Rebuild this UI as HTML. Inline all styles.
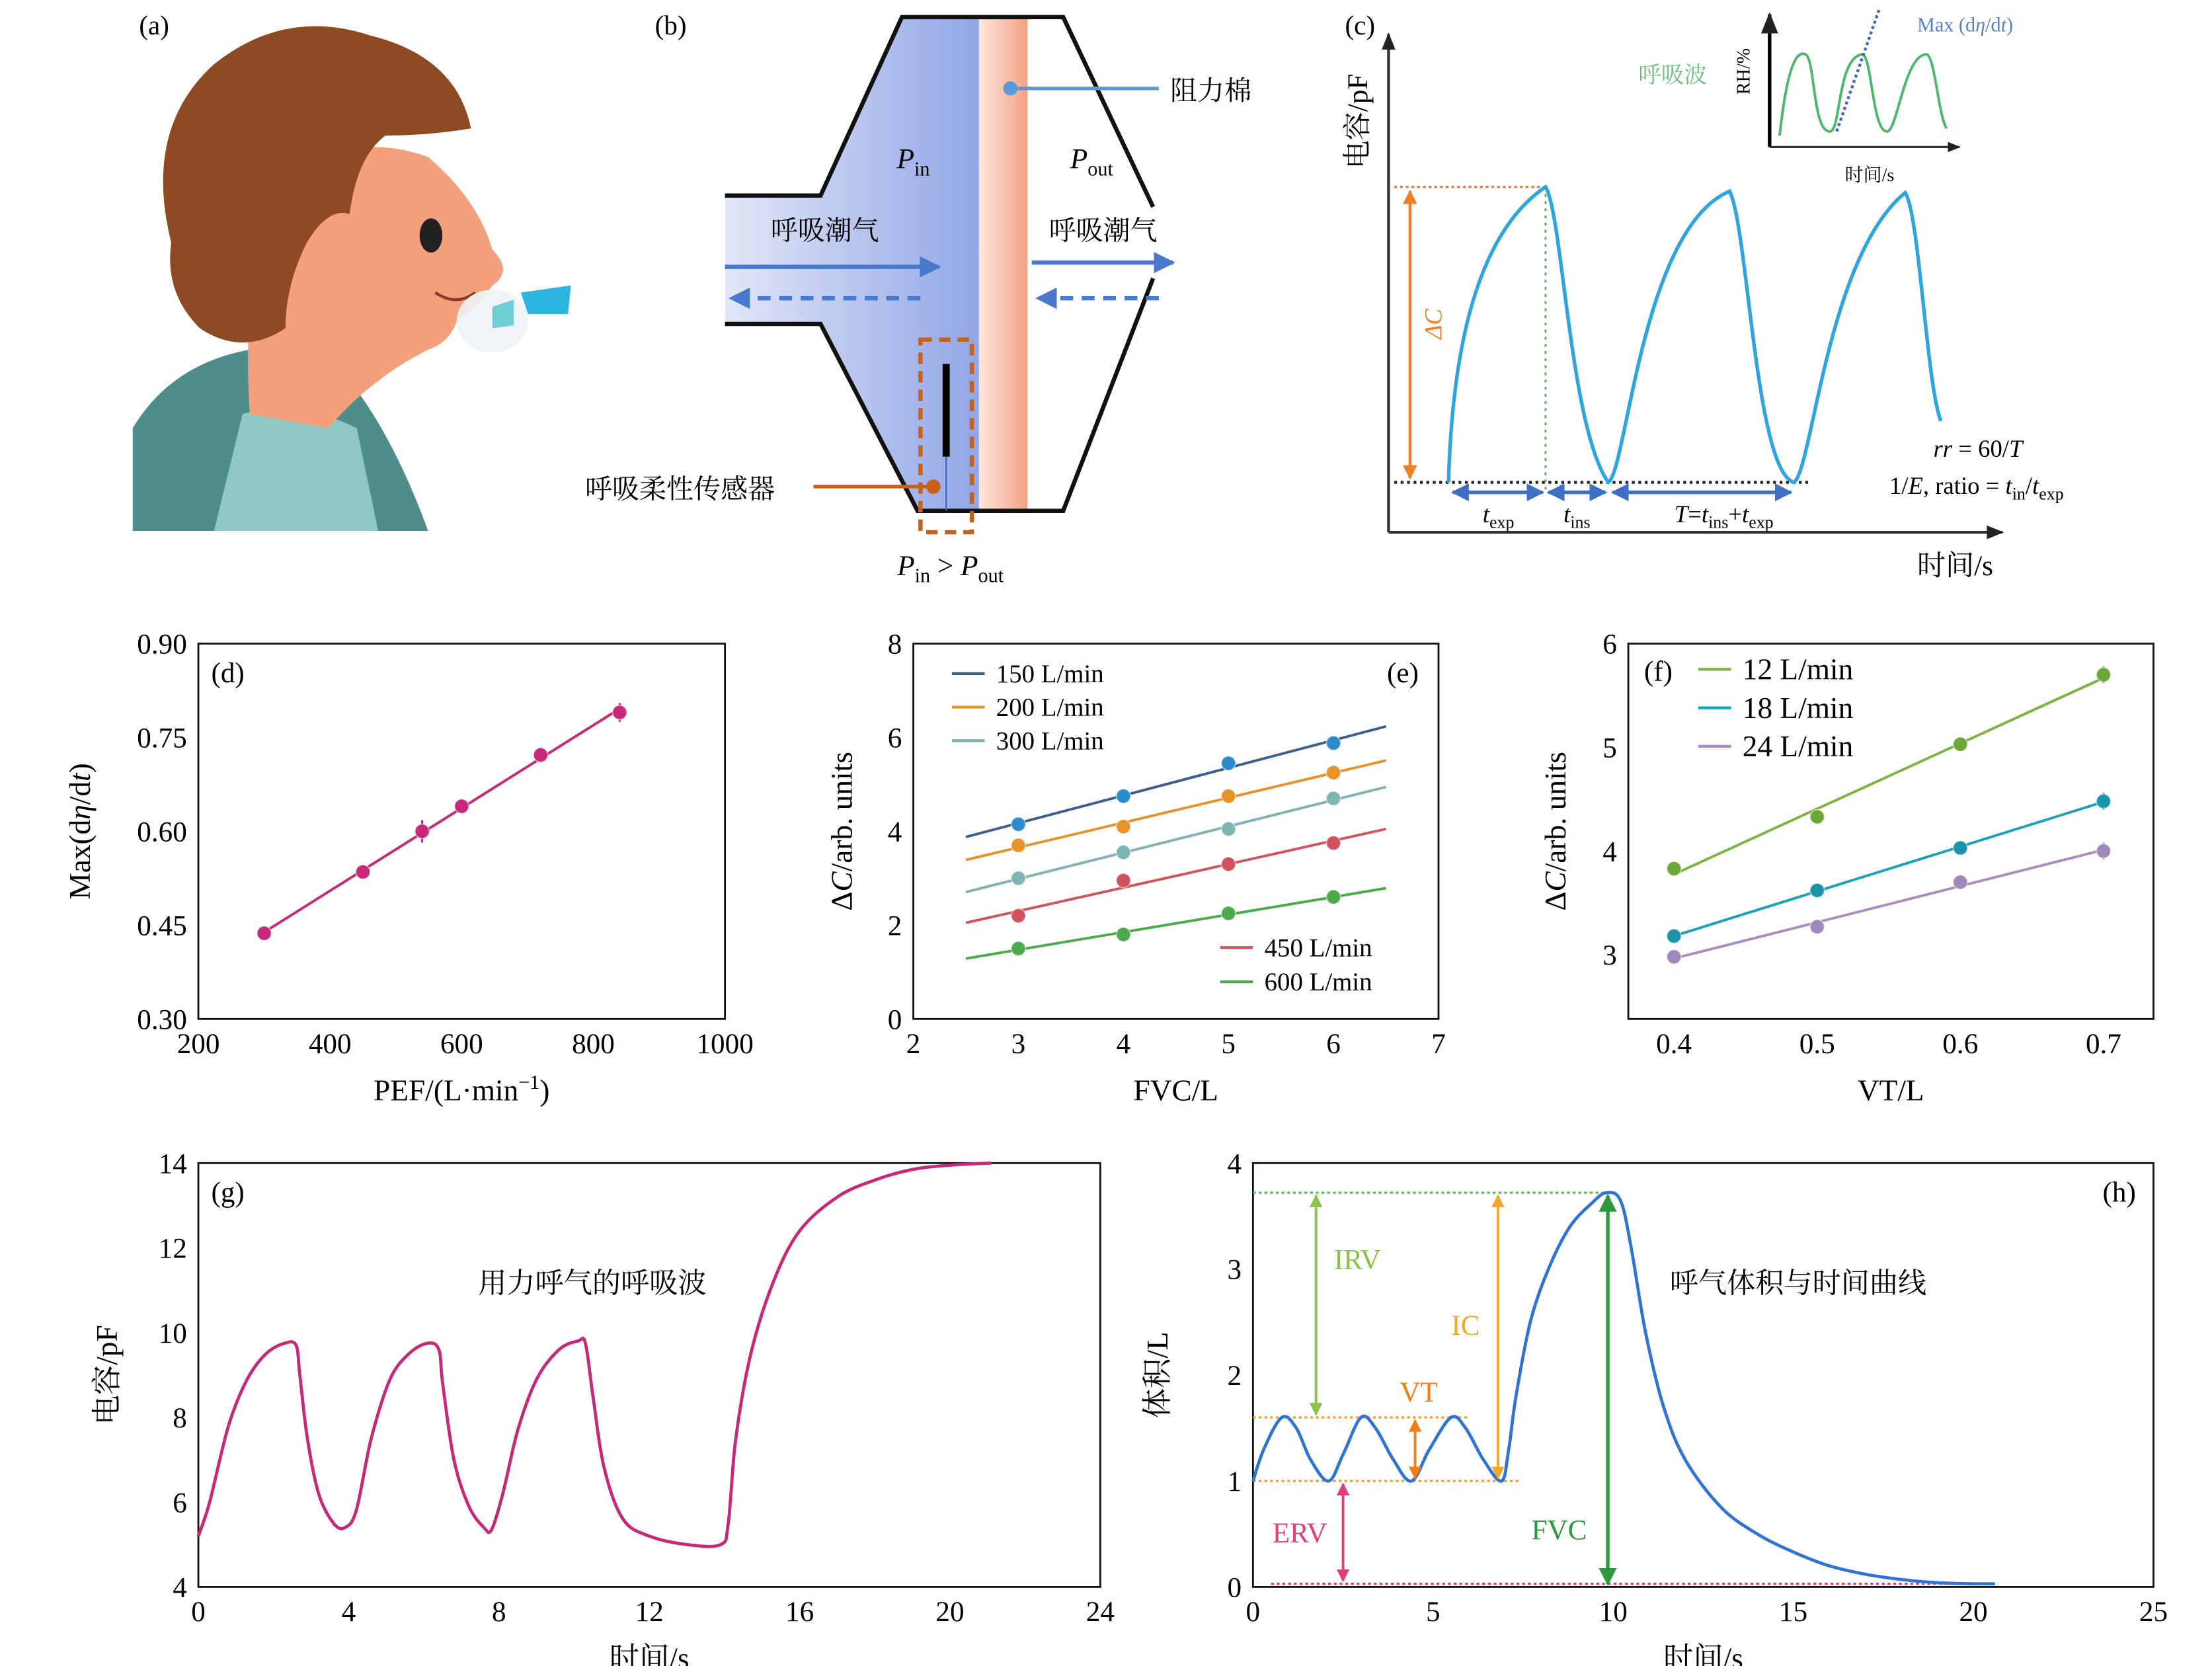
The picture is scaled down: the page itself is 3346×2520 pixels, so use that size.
<!DOCTYPE html>
<html><head><meta charset="utf-8">
<style>
html,body{margin:0;padding:0;background:#fff;}
svg{display:block;}
text{font-family:"Liberation Serif","Noto Serif CJK SC",serif;}
</style></head>
<body>
<svg id="fig" xmlns="http://www.w3.org/2000/svg" width="3346" height="2520" viewBox="0 0 1550 1167.4" preserveAspectRatio="none">
<defs>
<linearGradient id="gBlue" x1="0" x2="1" y1="0" y2="0"><stop offset="0" stop-color="#e2e7f7"/><stop offset="1" stop-color="#91a6e6"/></linearGradient>
<linearGradient id="gSal" x1="0" x2="1" y1="0" y2="0"><stop offset="0" stop-color="#fde6dc"/><stop offset="1" stop-color="#f4a283"/></linearGradient>
<marker id="ah" viewBox="0 0 10 10" refX="9" refY="5" markerWidth="5" markerHeight="5" orient="auto-start-reverse"><path d="M0,0L10,5L0,10z" fill="context-stroke"/></marker>
<marker id="ahk" viewBox="0 0 10 10" refX="9" refY="5" markerWidth="6" markerHeight="6" orient="auto"><path d="M0,1L10,5L0,9z" fill="#222"/></marker>
</defs>

<!-- Panel a: cartoon -->
<g>
<text x="108" y="24" font-size="19" text-anchor="middle">(a)</text>
<path d="M93,372 L93,300 Q120,255 175,245 L230,250 Q270,290 300,372 Z" fill="#4e8d8c"/>
<path d="M150,372 L170,290 Q210,280 250,300 L265,372 Z" fill="#8fc8c2"/>
<path d="M175,290 Q170,210 185,150 Q230,85 300,110 Q335,140 345,175 Q360,190 345,200 Q335,215 320,225 Q315,240 300,245 Q260,265 230,300 Z" fill="#f4a07c"/>
<path d="M120,170 Q100,90 150,45 Q200,5 260,25 Q320,40 330,90 Q300,95 270,95 Q250,110 245,150 Q230,145 215,170 Q200,200 200,230 Q170,250 140,230 Q115,205 120,170Z" fill="#8e4a22"/>
<ellipse cx="302" cy="165" rx="8" ry="12" fill="#222"/>
<path d="M305,205 Q320,215 333,205" stroke="#8a3a2a" stroke-width="2" fill="none"/>
<ellipse cx="345" cy="225" rx="25" ry="22" fill="#eef3f6" opacity="0.9"/>
<path d="M365,205 L400,200 L398,220 L370,220Z" fill="#2bb5e0"/>
<path d="M345,215 L360,210 L360,228 L345,230Z" fill="#6fd0d8"/>
</g>

<!-- Panel b -->
<g>
<text x="470" y="24" font-size="19" text-anchor="middle">(b)</text>
<path d="M632,12 L686,12 L686,358 L643,358 L575,227 L508,227 L508,137 L575,137 Z" fill="url(#gBlue)"/>
<rect x="686" y="12" width="34" height="346" fill="url(#gSal)"/>
<path d="M508,137 L575,137 L632,12 L745,12 L808,145" fill="none" stroke="#111" stroke-width="3"/>
<path d="M508,227 L575,227 L643,358 L745,358 L808,195" fill="none" stroke="#111" stroke-width="3"/>
<text x="640" y="118" font-size="20" font-style="italic" text-anchor="middle">P<tspan font-size="14" dy="5" font-style="normal">in</tspan></text>
<text x="765" y="118" font-size="20" font-style="italic" text-anchor="middle">P<tspan font-size="14" dy="5" font-style="normal">out</tspan></text>
<text x="578" y="168" font-size="19" text-anchor="middle">呼吸潮气</text>
<text x="773" y="168" font-size="19" text-anchor="middle">呼吸潮气</text>
<line x1="508" y1="187" x2="658" y2="187" stroke="#4a78cc" stroke-width="3" marker-end="url(#ah)"/>
<line x1="723" y1="184" x2="822" y2="184" stroke="#4a78cc" stroke-width="3" marker-end="url(#ah)"/>
<line x1="645" y1="209" x2="512" y2="209" stroke="#4a78cc" stroke-width="3" stroke-dasharray="9,6" marker-end="url(#ah)"/>
<line x1="812" y1="209" x2="727" y2="209" stroke="#4a78cc" stroke-width="3" stroke-dasharray="9,6" marker-end="url(#ah)"/>
<line x1="708" y1="62" x2="812" y2="62" stroke="#5b9ad8" stroke-width="2.5"/>
<circle cx="708" cy="62" r="5" fill="#5b9ad8"/>
<text x="820" y="70" font-size="19">阻力棉</text>
<rect x="645" y="238" width="36" height="135" fill="none" stroke="#c8601a" stroke-width="3" stroke-dasharray="8,5"/>
<line x1="663" y1="255" x2="663" y2="320" stroke="#000" stroke-width="5"/>
<line x1="663" y1="320" x2="663" y2="358" stroke="#3a62c0" stroke-width="1"/>
<line x1="570" y1="341" x2="654" y2="341" stroke="#c8601a" stroke-width="2.5"/>
<circle cx="654" cy="341" r="5" fill="#c8601a"/>
<text x="410" y="349" font-size="19">呼吸柔性传感器</text>
<text x="666" y="403" font-size="20" font-style="italic" text-anchor="middle">P<tspan font-size="14" dy="5" font-style="normal">in</tspan><tspan dy="-5" font-style="normal"> &gt; </tspan>P<tspan font-size="14" dy="5" font-style="normal">out</tspan></text>
</g>

<!-- Panel c -->
<g>
<text x="953" y="24" font-size="19" text-anchor="middle">(c)</text>
<line x1="973" y1="373" x2="973" y2="24" stroke="#333" stroke-width="2" marker-end="url(#ahk)"/>
<line x1="973" y1="373" x2="1403" y2="373" stroke="#333" stroke-width="2" marker-end="url(#ahk)"/>
<text transform="translate(958,85) rotate(-90)" font-size="20" text-anchor="middle">电容/pF</text>
<text x="1370" y="403" font-size="20" text-anchor="middle">时间/s</text>
<line x1="977" y1="131" x2="1083" y2="131" stroke="#e07a3a" stroke-width="1.5" stroke-dasharray="2,2"/>
<line x1="977" y1="338" x2="1268" y2="338" stroke="#222" stroke-width="2" stroke-dasharray="2,2.5"/>
<line x1="1083" y1="131" x2="1083" y2="345" stroke="#5aa85a" stroke-width="1.3" stroke-dasharray="2,3"/>
<line x1="988" y1="134" x2="988" y2="335" stroke="#f07f23" stroke-width="2" marker-start="url(#ah)" marker-end="url(#ah)"/>
<text transform="translate(1010,227) rotate(-90)" font-size="17" font-style="italic" fill="#f07f23" text-anchor="middle">ΔC</text>
<path id="cwave" d="M1015,338 C1018,230 1040,160 1083,131 C1095,150 1100,300 1127,338 C1140,330 1150,160 1212,134 C1225,160 1230,330 1257,338 C1270,330 1280,180 1335,135 C1345,150 1350,270 1360,295" fill="none" stroke="#2ea5df" stroke-width="2.5"/>
<line x1="1018" y1="345" x2="1081" y2="345" stroke="#3e6fc4" stroke-width="2.5" marker-start="url(#ah)" marker-end="url(#ah)"/>
<line x1="1085" y1="345" x2="1125" y2="345" stroke="#3e6fc4" stroke-width="2.5" marker-start="url(#ah)" marker-end="url(#ah)"/>
<line x1="1130" y1="345" x2="1255" y2="345" stroke="#3e6fc4" stroke-width="2.5" marker-start="url(#ah)" marker-end="url(#ah)"/>
<text x="1050" y="366" font-size="17" font-style="italic" text-anchor="middle">t<tspan font-size="12" dy="4" font-style="normal">exp</tspan></text>
<text x="1105" y="366" font-size="17" font-style="italic" text-anchor="middle">t<tspan font-size="12" dy="4" font-style="normal">ins</tspan></text>
<text x="1208" y="366" font-size="17" font-style="italic" text-anchor="middle">T<tspan font-style="normal">=</tspan>t<tspan font-size="12" dy="4" font-style="normal">ins</tspan><tspan dy="-4" font-style="normal">+</tspan>t<tspan font-size="12" dy="4" font-style="normal">exp</tspan></text>
<text x="1386" y="320" font-size="17" text-anchor="middle"><tspan font-style="italic">rr</tspan> = 60/<tspan font-style="italic">T</tspan></text>
<text x="1385" y="346" font-size="17" text-anchor="middle">1/<tspan font-style="italic">E</tspan>, ratio = <tspan font-style="italic">t</tspan><tspan font-size="12" dy="4">in</tspan><tspan dy="-4">/</tspan><tspan font-style="italic">t</tspan><tspan font-size="12" dy="4">exp</tspan></text>
<line x1="1240" y1="103" x2="1240" y2="10" stroke="#000" stroke-width="2.5" marker-end="url(#ahk)"/>
<line x1="1240" y1="103" x2="1373" y2="103" stroke="#333" stroke-width="1.5" marker-end="url(#ahk)"/>
<path d="M1247,95 C1252,50 1258,35 1265,38 C1272,40 1270,95 1283,92 C1290,88 1288,40 1305,38 C1312,40 1312,95 1323,92 C1330,88 1335,38 1350,38 C1356,40 1358,80 1364,90" fill="none" stroke="#4cb86a" stroke-width="1.8"/>
<line x1="1287" y1="92" x2="1317" y2="6" stroke="#3f66c0" stroke-width="2" stroke-dasharray="2,2"/>
<text x="1377" y="22" font-size="14" fill="#5b7fc7" text-anchor="middle">Max (d<tspan font-style="italic">η</tspan>/d<tspan font-style="italic">t</tspan>)</text>
<text x="1172" y="58" font-size="16" fill="#6dc07a" text-anchor="middle">呼吸波</text>
<text transform="translate(1226,50) rotate(-90)" font-size="13" text-anchor="middle">RH/%</text>
<text x="1310" y="127" font-size="13" text-anchor="middle">时间/s</text>
</g>

<g id="charts"></g>
</svg>

<script>
// ---------- data: panel d ----------
const dPEF = [300, 450, 540, 600, 720, 840];
const dMax = [0.437, 0.535, 0.600, 0.640, 0.722, 0.790];
const dErr = [0.005, 0.006, 0.018, 0.008, 0.012, 0.015];
const dXTicks = [200, 400, 600, 800, 1000];
const dYTicks = ["0.30", "0.45", "0.60", "0.75", "0.90"];
// ---------- data: panel e ----------
const eFVC = [3, 4, 5, 6];
const eLabels = ["150 L/min", "200 L/min", "300 L/min", "450 L/min", "600 L/min"];
const e150 = [4.15, 4.75, 5.45, 5.88];
const e200 = [3.70, 4.10, 4.75, 5.25];
const e300 = [3.00, 3.55, 4.05, 4.70];
const e450 = [2.20, 2.95, 3.30, 3.75];
const e600 = [1.50, 1.80, 2.25, 2.60];
const eXTicks = [2, 3, 4, 5, 6, 7];
const eYTicks = [0, 2, 4, 6, 8];
// ---------- data: panel f ----------
const fVT = [0.4, 0.5, 0.6, 0.7];
const fLabels = ["12 L/min", "18 L/min", "24 L/min"];
const f12 = [3.83, 4.33, 5.03, 5.70];
const f18 = [3.18, 3.62, 4.03, 4.48];
const f24 = [2.98, 3.27, 3.70, 4.00];
const fXTicks = [0.4, 0.5, 0.6, 0.7];
const fYTicks = [3, 4, 5, 6];
// ---------- data: panel g ----------
const gT = [0,0.3,0.8,1.3,1.8,2.3,2.6,2.7,2.9,3.2,3.6,3.9,4.2,4.6,5.1,5.6,6.1,6.4,6.5,6.8,7.2,7.6,7.8,8.1,8.5,9.0,9.6,10.1,10.3,10.5,10.8,11.3,12,13,13.9,14.1,14.3,14.7,15.3,16,17,18,19,20,21.1];
const gC = [5.2,6.0,7.8,8.9,9.5,9.75,9.7,9.0,7.5,6.2,5.5,5.4,5.8,7.5,8.9,9.5,9.75,9.6,8.8,7.0,5.9,5.4,5.35,6.2,7.7,8.9,9.6,9.8,9.75,8.5,6.8,5.6,5.2,5.0,5.0,5.5,7.5,9.5,11.2,12.4,13.2,13.6,13.85,13.95,14.0];
const gXTicks = [0, 4, 8, 12, 16, 20, 24];
const gYTicks = [4, 6, 8, 10, 12, 14];
// ---------- data: panel h ----------
const hT = [0,0.3,0.8,1.2,1.6,2.1,2.5,3.0,3.4,3.9,4.4,4.9,5.5,5.9,6.4,6.9,7.1,7.3,7.7,8.2,8.8,9.4,9.8,10.2,10.5,10.9,11.4,12,13,14,15,16,17,18,19,20,20.6];
const hV = [1.0,1.3,1.6,1.5,1.2,1.0,1.25,1.6,1.5,1.2,1.0,1.3,1.6,1.5,1.2,1.0,1.3,1.8,2.5,3.0,3.4,3.62,3.72,3.65,3.2,2.4,1.7,1.2,0.75,0.5,0.33,0.2,0.12,0.07,0.04,0.03,0.03];
const hLevels = [3.72, 1.6, 1.0, 0.03];
const hXTicks = [0, 5, 10, 15, 20, 25];
const hYTicks = [0, 1, 2, 3, 4];

const NS = "http://www.w3.org/2000/svg";
const root = document.getElementById("charts");
function mk(tag, attrs, parent, txt) {
  const el = document.createElementNS(NS, tag);
  for (const k in attrs) el.setAttribute(k, attrs[k]);
  if (txt !== undefined) el.textContent = txt;
  (parent || root).appendChild(el);
  return el;
}
function lin(d0, d1, r0, r1) { return v => r0 + (v - d0) * (r1 - r0) / (d1 - d0); }
function fit(xs, ys) {
  const n = xs.length; let sx = 0, sy = 0, sxx = 0, sxy = 0;
  for (let i = 0; i < n; i++) { sx += xs[i]; sy += ys[i]; sxx += xs[i]*xs[i]; sxy += xs[i]*ys[i]; }
  const b = (n*sxy - sx*sy) / (n*sxx - sx*sx); return [b, (sy - b*sx)/n];
}
function smooth(P) {
  let d = "M" + P[0][0].toFixed(1) + "," + P[0][1].toFixed(1);
  for (let i = 0; i < P.length - 1; i++) {
    const p0 = P[Math.max(0, i-1)], p1 = P[i], p2 = P[i+1], p3 = P[Math.min(P.length-1, i+2)];
    const c1x = p1[0] + (p2[0]-p0[0])/6, c1y = p1[1] + (p2[1]-p0[1])/6;
    const c2x = p2[0] - (p3[0]-p1[0])/6, c2y = p2[1] - (p3[1]-p1[1])/6;
    d += "C" + c1x.toFixed(1) + "," + c1y.toFixed(1) + " " + c2x.toFixed(1) + "," + c2y.toFixed(1) + " " + p2[0].toFixed(1) + "," + p2[1].toFixed(1);
  }
  return d;
}
function frame(name, x0, y0, x1, y1, xt, yt, xs, ys, xtitle, ytitle, ytx, fs) {
  const g = mk("g", {});
  
  
  const box = mk("rect", {x: x0, y: y0, width: x1-x0, height: y1-y0, fill: "none", stroke: "#111", "stroke-width": 1.3}, g);
  
  
  xt.forEach(v => {
    const t = mk("text", {x: xs(+v), y: y1 + 24, "font-size": fs, "text-anchor": "middle"}, g, String(v));
    
    
  });
  yt.forEach(v => {
    const t = mk("text", {x: x0 - 8, y: ys(+v) + 7, "font-size": fs, "text-anchor": "end"}, g, String(v));
    
    
  });
  const xl = mk("text", {x: (x0+x1)/2, y: y1 + 57, "font-size": 21, "text-anchor": "middle"}, g);
  xl.innerHTML = xtitle;
  
  
  const yl = mk("text", {transform: `translate(${ytx},${(y0+y1)/2}) rotate(-90)`, "font-size": 21, "text-anchor": "middle"}, g);
  yl.innerHTML = ytitle;
  
  
  return g;
}
function dot(g, x, y, col, name) {
  const c = mk("circle", {cx: x, cy: y, r: 5, fill: col, stroke: "#fff", "stroke-width": 0.8, "stroke-opacity": 0.5}, g);
  
  
}
function label(g, x, y, s, size, extra) {
  const t = mk("text", Object.assign({x: x, y: y, "font-size": size}, extra || {}), g);
  t.innerHTML = s;
  
  
}

// ---- panel d ----
(function () {
  const xs = lin(200, 1000, 139, 508), ys = lin(0.30, 0.90, 714, 451);
  const g = frame("panel-d-chart", 139, 451, 508, 714, dXTicks, dYTicks, xs, ys,
    "PEF/(L·min<tspan font-size='14' dy='-8'>−1</tspan><tspan dy='8'>)</tspan>",
    "Max(d<tspan font-style='italic'>η</tspan>/d<tspan font-style='italic'>t</tspan>)", 63, 20);
  label(g, 148, 478, "(d)", 20);
  const [b, a] = fit(dPEF, dMax);
  const ln = mk("line", {x1: xs(dPEF[0]), y1: ys(a + b*dPEF[0]), x2: xs(dPEF[dPEF.length-1]), y2: ys(a + b*dPEF[dPEF.length-1]), stroke: "#c8287a", "stroke-width": 1.8}, g);
  
  
  dPEF.forEach((p, i) => {
    const e = mk("line", {x1: xs(p), x2: xs(p), y1: ys(dMax[i] - dErr[i]), y2: ys(dMax[i] + dErr[i]), stroke: "#c8287a", "stroke-width": 1.5}, g);
    
    
    dot(g, xs(p), ys(dMax[i]), "#c8287a", "data-point");
  });
})();

// ---- panel e ----
(function () {
  const xs = lin(2, 7, 640, 1008), ys = lin(0, 8, 714, 451);
  const g = frame("panel-e-chart", 640, 451, 1008, 714, eXTicks, eYTicks, xs, ys, "FVC/L",
    "Δ<tspan font-style='italic'>C</tspan>/arb. units", 597, 20);
  label(g, 983, 478, "(e)", 20, {"text-anchor": "middle"});
  const series = [e150, e200, e300, e450, e600];
  const lineCols = ["#3d5f8c", "#e8922a", "#7fb2b0", "#d0545d", "#4caa4c"];
  const dotCols = ["#2a8ccc", "#e8922a", "#7fb4b4", "#d0545d", "#4caa4c"];
  series.forEach((s, k) => {
    const [b, a] = fit(eFVC, s);
    const ln = mk("line", {x1: xs(2.5), y1: ys(a + b*2.5), x2: xs(6.5), y2: ys(a + b*6.5), stroke: lineCols[k], "stroke-width": 1.8}, g);
    
    
    s.forEach((v, i) => dot(g, xs(eFVC[i]), ys(v), dotCols[k], 'data-point'));
    const lx = k < 3 ? 667 : 855, ly = k < 3 ? 472 + k*23.5 : 664 + (k-3)*24;
    const ll = mk("line", {x1: lx, x2: lx + 23, y1: ly, y2: ly, stroke: lineCols[k], "stroke-width": 2}, g);
    
    
    const lt = mk("text", {x: lx + 31, y: ly + 6, "font-size": 18}, g, eLabels[k]);
    
    
  });
})();

// ---- panel f ----
(function () {
  const xs = lin(0.4, 0.7, 1173, 1474), ys = lin(3, 6, 669, 451);
  const g = frame("panel-f-chart", 1141, 451, 1509, 714, fXTicks, fYTicks, xs, ys, "VT/L",
    "Δ<tspan font-style='italic'>C</tspan>/arb. units", 1097, 20);
  label(g, 1152, 477, "(f)", 20);
  const series = [f12, f18, f24];
  const lineCols = ["#7cb342", "#1aa3b8", "#a88cc2"];
  const dotCols = ["#6aa83a", "#1a94aa", "#a088bb"];
  series.forEach((s, k) => {
    const [b, a] = fit(fVT, s);
    const ln = mk("line", {x1: xs(0.4), y1: ys(a + b*0.4), x2: xs(0.7), y2: ys(a + b*0.7), stroke: lineCols[k], "stroke-width": 1.8}, g);
    
    
    s.forEach((v, i) => {
      if (i === 3) {
        const e = mk("line", {x1: xs(fVT[i]), x2: xs(fVT[i]), y1: ys(v - 0.08), y2: ys(v + 0.08), stroke: dotCols[k], "stroke-width": 1.5}, g);
        
        
      }
      dot(g, xs(fVT[i]), ys(v), dotCols[k], 'data-point');
    });
    const ly = 469 + k*27;
    const ll = mk("line", {x1: 1190, x2: 1213, y1: ly, y2: ly, stroke: lineCols[k], "stroke-width": 2}, g);
    
    
    const lt = mk("text", {x: 1221, y: ly + 7, "font-size": 21}, g, fLabels[k]);
    
    
  });
})();

// ---- panel g ----
(function () {
  const xs = lin(0, 24, 139, 771), ys = lin(4, 14, 1112, 815);
  const g = frame("panel-g-chart", 139, 815, 771, 1112, gXTicks, gYTicks, xs, ys, "时间/s", "电容/pF", 82, 20);
  label(g, 148, 842, "(g)", 20);
  label(g, 415, 906, "用力呼气的呼吸波", 20, {"text-anchor": "middle"});
  const p = mk("path", {d: smooth(gT.map((t, i) => [xs(t), ys(gC[i])])), fill: "none", stroke: "#c8287a", "stroke-width": 2.2, "stroke-linejoin": "round"}, g);
  
  
})();

// ---- panel h ----
(function () {
  const xs = lin(0, 25, 878, 1509), ys = lin(0, 4, 1112, 815);
  const g = frame("panel-h-chart", 878, 815, 1509, 1112, hXTicks, hYTicks, xs, ys, "时间/s", "体积/L", 818, 20);
  label(g, 1485, 842, "(h)", 20, {"text-anchor": "middle"});
  label(g, 1260, 906, "呼气体积与时间曲线", 20, {"text-anchor": "middle"});
  const lvCols = ["#5cb85c", "#e8a030", "#e8a030", "#d04080"];
  const lvX = [[0, 9.8], [0, 6], [0, 7.4], [0.5, 20.5]];
  hLevels.forEach((v, i) => {
    const l = mk("line", {x1: xs(lvX[i][0]), x2: xs(lvX[i][1]), y1: ys(v), y2: ys(v), stroke: lvCols[i], "stroke-width": 1.5, "stroke-dasharray": "2,2"}, g);
    
    
  });
  const p = mk("path", {d: smooth(hT.map((t, i) => [xs(t), ys(hV[i])])), fill: "none", stroke: "#2f74d0", "stroke-width": 2.2, "stroke-linejoin": "round"}, g);
  
  
  const arrows = [
    ["IRV", 1.75, hLevels[1], hLevels[0], "#8bc34a", 2.9, 3.0],
    ["IC", 6.8, hLevels[2], hLevels[0], "#f5a623", 5.9, 2.38],
    ["VT", 4.5, hLevels[2], hLevels[1], "#f07f13", 4.6, 1.75],
    ["ERV", 2.5, hLevels[3], hLevels[2], "#e0407a", 1.3, 0.42],
    ["FVC", 9.85, 0.0, hLevels[0], "#2a9a3a", 8.5, 0.45]
  ];
  arrows.forEach(a => {
    const l = mk("line", {x1: xs(a[1]), x2: xs(a[1]), y1: ys(a[2]) - 2, y2: ys(a[3]) + 2, stroke: a[4], "stroke-width": a[0] === "FVC" ? 2.5 : 1.8, "marker-start": "url(#ah)", "marker-end": "url(#ah)"}, g);
    
    
    const t = mk("text", {x: xs(a[5]), y: ys(a[6]), "font-size": 20, fill: a[4], "text-anchor": "middle"}, g, a[0]);
    
    
  });
})();
</script>
</body></html>
